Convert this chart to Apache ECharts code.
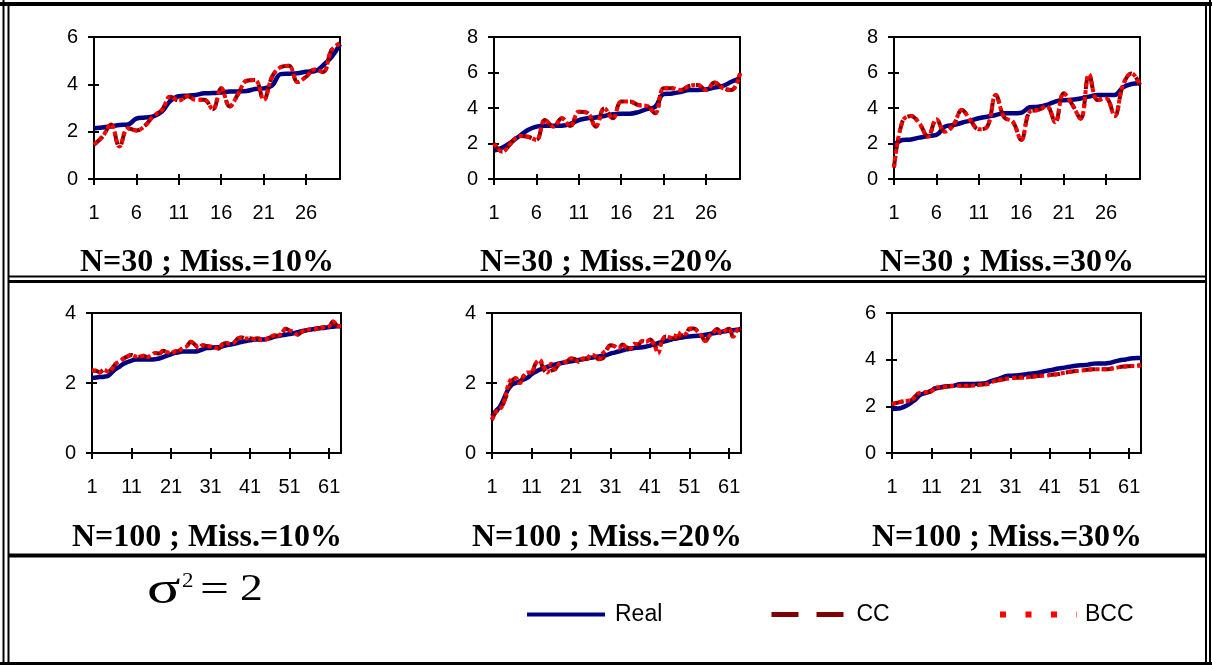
<!DOCTYPE html>
<html>
<head>
<meta charset="utf-8">
<script src="https://cdn.jsdelivr.net/npm/echarts@6/dist/echarts.min.js"></script>
<style>
html,body{margin:0;padding:0;background:#fff;}
#chart{width:1212px;height:665px;}
</style>
</head>
<body>
<div id="chart"></div>
<script>
// ---------- categories / tick labels ----------
const cats30 = ['1','2','3','4','5','6','7','8','9','10','11','12','13','14','15','16','17','18','19','20','21','22','23','24','25','26','27','28','29','30'];
const cats64 = ['1','2','3','4','5','6','7','8','9','10','11','12','13','14','15','16','17','18','19','20','21','22','23','24','25','26','27','28','29','30','31','32','33','34','35','36','37','38','39','40','41','42','43','44','45','46','47','48','49','50','51','52','53','54','55','56','57','58','59','60','61','62','63','64'];
const panelTitles = ['N=30 ; Miss.=10%','N=30 ; Miss.=20%','N=30 ; Miss.=30%','N=100 ; Miss.=10%','N=100 ; Miss.=20%','N=100 ; Miss.=30%'];
const yMaxes = [6, 8, 8, 4, 4, 6];
const seriesNames = ['Real','CC','BCC'];

// ---------- N=30, 10% ----------
const p1Real = [2.14,2.18,2.22,2.28,2.3,2.55,2.6,2.65,2.85,3.3,3.5,3.52,3.55,3.62,3.63,3.65,3.7,3.7,3.72,3.8,3.83,3.95,4.43,4.45,4.47,4.53,4.55,4.8,5.15,5.7];
const p1CC   = [1.45,1.79,2.3,1.37,2.14,2.05,2.25,2.66,2.91,3.48,3.31,3.5,3.35,3.35,2.95,3.83,3.06,3.6,4.15,4.18,3.34,4.32,4.72,4.78,4.1,4.32,4.63,4.52,5.45,5.73];
const p1BCC  = [1.45,1.79,2.3,1.37,2.14,2.05,2.25,2.66,2.91,3.48,3.31,3.5,3.35,3.35,2.95,3.83,3.06,3.6,4.15,4.18,3.34,4.32,4.72,4.78,4.1,4.32,4.63,4.52,5.45,5.73];
// ---------- N=30, 20% ----------
const p2Real = [1.6,1.78,2.07,2.42,2.76,2.95,3.0,3.0,3.0,3.1,3.32,3.42,3.47,3.55,3.65,3.68,3.68,3.77,3.94,4.07,4.79,4.82,4.9,5.01,5.01,5.05,5.15,5.24,5.48,5.67];
const p2CC   = [2.0,1.54,2.01,2.42,2.38,2.2,3.32,2.95,3.42,2.98,3.79,3.73,2.95,3.98,3.42,4.36,4.36,4.17,4.12,3.7,5.11,5.11,5.01,5.24,5.3,5.01,5.43,5.11,5.01,5.95];
const p2BCC  = [2.0,1.54,2.01,2.42,2.38,2.2,3.32,2.95,3.42,2.98,3.79,3.73,2.95,3.98,3.42,4.36,4.36,4.17,4.12,3.7,5.11,5.11,5.01,5.24,5.3,5.01,5.43,5.11,5.01,5.95];
// ---------- N=30, 30% ----------
const p3Real = [1.9,2.2,2.23,2.33,2.42,2.48,2.95,3.04,3.17,3.29,3.42,3.51,3.61,3.7,3.7,3.73,4.04,4.07,4.17,4.36,4.44,4.47,4.54,4.64,4.73,4.73,4.73,5.16,5.35,5.39];
const p3CC   = [0.65,3.25,3.55,3.13,2.38,3.36,2.66,3.04,3.89,3.32,2.8,2.95,4.73,3.47,3.23,2.2,3.79,3.89,4.1,3.2,4.83,4.2,3.4,5.9,4.45,4.54,3.55,5.3,5.95,5.3];
const p3BCC  = [0.65,3.25,3.55,3.13,2.38,3.36,2.66,3.04,3.89,3.32,2.8,2.95,4.73,3.47,3.23,2.2,3.79,3.89,4.1,3.2,4.83,4.2,3.4,5.9,4.45,4.54,3.55,5.3,5.95,5.3];
// ---------- N=100, 10% ----------
const p4Real = [2.14,2.16,2.17,2.18,2.2,2.3,2.4,2.47,2.55,2.6,2.64,2.67,2.67,2.67,2.67,2.67,2.68,2.7,2.74,2.78,2.82,2.86,2.88,2.9,2.9,2.9,2.9,2.92,2.96,3.0,3.0,3.02,3.02,3.05,3.08,3.1,3.12,3.15,3.18,3.2,3.22,3.24,3.24,3.24,3.25,3.28,3.32,3.34,3.36,3.38,3.4,3.42,3.45,3.48,3.5,3.52,3.54,3.56,3.57,3.58,3.6,3.61,3.62,3.62];
const p4CC   = [2.36,2.35,2.3,2.38,2.33,2.4,2.55,2.62,2.7,2.76,2.8,2.76,2.75,2.78,2.74,2.8,2.86,2.84,2.92,2.88,2.86,2.9,2.92,3.0,3.05,3.18,3.1,3.0,3.08,3.06,3.04,3.02,2.98,3.1,3.14,3.12,3.16,3.28,3.3,3.27,3.28,3.26,3.28,3.22,3.25,3.3,3.36,3.35,3.42,3.55,3.5,3.46,3.38,3.46,3.5,3.53,3.52,3.56,3.58,3.6,3.62,3.76,3.64,3.62];
const p4BCC  = [2.36,2.35,2.3,2.38,2.33,2.4,2.55,2.62,2.7,2.76,2.8,2.76,2.75,2.78,2.74,2.8,2.86,2.84,2.92,2.88,2.86,2.9,2.92,3.0,3.05,3.18,3.1,3.0,3.08,3.06,3.04,3.02,2.98,3.1,3.14,3.12,3.16,3.28,3.3,3.27,3.28,3.26,3.28,3.22,3.25,3.3,3.36,3.35,3.42,3.55,3.5,3.46,3.38,3.46,3.5,3.53,3.52,3.56,3.58,3.6,3.62,3.76,3.64,3.62];
// ---------- N=100, 20% ----------
const p5Real = [1.05,1.2,1.32,1.55,1.8,1.95,2.0,2.05,2.1,2.15,2.25,2.32,2.38,2.42,2.46,2.5,2.53,2.56,2.58,2.6,2.62,2.64,2.66,2.68,2.7,2.72,2.74,2.76,2.78,2.8,2.84,2.87,2.9,2.93,2.96,2.98,3.0,3.01,3.02,3.04,3.07,3.1,3.14,3.17,3.2,3.23,3.26,3.28,3.3,3.32,3.33,3.34,3.35,3.36,3.38,3.4,3.42,3.44,3.46,3.48,3.5,3.51,3.52,3.53];
const p5CC   = [0.95,1.18,1.25,1.45,1.75,2.05,2.14,2.0,2.2,2.3,2.3,2.55,2.66,2.4,2.3,2.35,2.4,2.55,2.6,2.62,2.7,2.68,2.6,2.7,2.68,2.8,2.78,2.68,2.7,2.95,3.08,3.05,2.98,3.1,3.02,2.98,3.12,3.1,3.2,3.18,3.24,3.1,2.95,3.2,3.33,3.3,3.28,3.3,3.35,3.4,3.55,3.56,3.48,3.35,3.2,3.35,3.45,3.54,3.42,3.5,3.55,3.32,3.5,3.56];
const p5BCC  = [0.95,1.18,1.25,1.45,1.9,2.12,2.14,2.0,2.2,2.3,2.3,2.55,2.66,2.5,2.3,2.55,2.4,2.55,2.6,2.62,2.7,2.68,2.6,2.7,2.68,2.8,2.78,2.68,2.85,2.95,3.08,3.05,2.98,3.1,3.02,2.98,3.12,3.1,3.2,3.18,3.24,3.1,2.85,3.2,3.33,3.3,3.28,3.45,3.36,3.4,3.55,3.56,3.48,3.35,3.2,3.35,3.45,3.54,3.42,3.5,3.55,3.32,3.5,3.56];
// ---------- N=100, 30% ----------
const p6Real = [1.88,1.9,1.92,1.98,2.06,2.18,2.3,2.48,2.55,2.6,2.68,2.77,2.8,2.84,2.86,2.87,2.9,2.95,2.96,2.96,2.96,2.96,2.97,2.98,3.0,3.08,3.13,3.18,3.24,3.3,3.31,3.32,3.33,3.35,3.38,3.4,3.42,3.44,3.48,3.52,3.55,3.58,3.62,3.64,3.67,3.7,3.73,3.75,3.76,3.77,3.8,3.83,3.84,3.84,3.84,3.86,3.9,3.95,3.99,4.0,4.04,4.06,4.07,4.07];
const p6CC   = [2.1,2.14,2.18,2.22,2.24,2.27,2.45,2.58,2.6,2.6,2.65,2.8,2.82,2.82,2.86,2.87,2.88,2.88,2.88,2.88,2.88,2.9,2.92,2.94,2.96,3.02,3.08,3.12,3.15,3.18,3.2,3.22,3.23,3.24,3.24,3.26,3.28,3.3,3.31,3.32,3.34,3.36,3.38,3.42,3.45,3.48,3.5,3.52,3.54,3.56,3.58,3.59,3.59,3.59,3.59,3.6,3.63,3.66,3.7,3.71,3.72,3.73,3.74,3.77];
const p6BCC  = [2.1,2.14,2.18,2.22,2.24,2.27,2.45,2.58,2.6,2.6,2.65,2.8,2.82,2.82,2.86,2.87,2.88,2.88,2.88,2.88,2.88,2.9,2.92,2.94,2.96,3.02,3.08,3.12,3.15,3.18,3.2,3.22,3.23,3.24,3.24,3.26,3.28,3.3,3.31,3.32,3.34,3.36,3.38,3.42,3.45,3.48,3.5,3.52,3.54,3.56,3.58,3.59,3.59,3.59,3.59,3.6,3.63,3.66,3.7,3.71,3.72,3.73,3.74,3.77];

const panelData = [
  [p1Real, p1CC, p1BCC], [p2Real, p2CC, p2BCC], [p3Real, p3CC, p3BCC],
  [p4Real, p4CC, p4BCC], [p5Real, p5CC, p5BCC], [p6Real, p6CC, p6BCC]
];
const panelCats = [cats30, cats30, cats30, cats64, cats64, cats64];

// ---------- layout (positions & styles) ----------
const layout = [
  {left:94,  top:37,  width:246, height:142, step:4, tx:207,  ty:247},
  {left:494, top:37,  width:246, height:142, step:4, tx:607,  ty:247},
  {left:894, top:37,  width:246, height:142, step:4, tx:1007, ty:247},
  {left:92,  top:313, width:249, height:140, step:9, tx:207,  ty:522},
  {left:492, top:313, width:249, height:140, step:9, tx:607,  ty:522},
  {left:892, top:313, width:249, height:140, step:9, tx:1007, ty:522}
];
const styles = [
  {color:'#000080', width:4.5, type:'solid'},
  {color:'#800000', width:4, type:[12,6]},
  {color:'#FF0000', width:4, type:[4,3]}
];
const AX = '#000';
const sans = 'Liberation Sans, Arial, sans-serif';
const serif = 'Liberation Serif, Times New Roman, serif';

const grid = [], xAxis = [], yAxis = [], title = [], series = [];
layout.forEach((L, k) => {
  grid.push({left:L.left, top:L.top, width:L.width, height:L.height, show:true,
    borderColor:AX, borderWidth:2, backgroundColor:'transparent', containLabel:false});
  const cats = panelCats[k];
  xAxis.push({type:'category', gridIndex:k, data:cats, boundaryGap:false,
    axisLine:{show:true, onZero:false, lineStyle:{color:AX, width:2}},
    axisTick:{show:true, interval:L.step, length:6, lineStyle:{color:AX, width:2}},
    axisLabel:{interval:L.step, color:'#000', fontFamily:sans, fontSize:20, margin:24},
    splitLine:{show:false}});
  xAxis.push({type:'category', gridIndex:k, data:cats, boundaryGap:false, position:'bottom',
    axisLine:{show:false},
    axisTick:{show:true, inside:true, interval:L.step, length:5, lineStyle:{color:AX, width:2}},
    axisLabel:{show:false}, splitLine:{show:false}});
  yAxis.push({type:'value', gridIndex:k, min:0, max:yMaxes[k], interval:2,
    axisLine:{show:true, lineStyle:{color:AX, width:2}},
    axisTick:{show:true, length:6, lineStyle:{color:AX, width:2}},
    axisLabel:{color:'#000', fontFamily:sans, fontSize:20, margin:16},
    splitLine:{show:false}});
  yAxis.push({type:'value', gridIndex:k, min:0, max:yMaxes[k], interval:2, position:'left',
    axisLine:{show:false},
    axisTick:{show:true, inside:true, length:5, lineStyle:{color:AX, width:2}},
    axisLabel:{show:false}, splitLine:{show:false}});
  title.push({text:panelTitles[k], left:L.tx, top:L.ty, textAlign:'center', padding:0,
    textStyle:{fontFamily:serif, fontWeight:'bold', fontSize:32, color:'#000'}});
  panelData[k].forEach((arr, s) => {
    series.push({type:'line', name:seriesNames[s], xAxisIndex:2*k, yAxisIndex:2*k,
      data:arr, symbol:'none', smooth:0.4, lineStyle:Object.assign({}, styles[s]),
      itemStyle:{color:styles[s].color}, z:2+s});
  });
});

const legendDefs = [
  {name:'Real', left:525, itemWidth:78, pad:5,  ls:{color:'#000080', width:4, type:'solid'}},
  {name:'CC',   left:769, itemWidth:72, pad:8,  ls:{color:'#800000', width:5, type:[27,18]}},
  {name:'BCC',  left:997, itemWidth:77, pad:3,  ls:{color:'#FF0000', width:6, type:[6,19.5]}}
];
const legend = legendDefs.map(d => ({
  left:d.left, top:603, padding:0, itemWidth:d.itemWidth, itemHeight:14, selectedMode:false,
  data:[{name:d.name, lineStyle:d.ls,
         itemStyle:{color:'rgba(0,0,0,0)', borderWidth:0, opacity:0}}],
  textStyle:{fontFamily:sans, fontSize:23, color:'#000', padding:[0,0,0,d.pad]}
}));

const L = (x1,y1,x2,y2,w) => ({type:'line', silent:true, shape:{x1,y1,x2,y2}, style:{stroke:'#000', lineWidth:w}});
const graphic = [
  L(0,4,1212,4,4),
  L(3.5,0,3.5,665,2), L(8.5,4,8.5,665,2),
  L(1206,4,1206,665,2), L(1210,0,1210,665,2),
  L(0,663.5,1212,663.5,3),
  L(8,276.5,1206,276.5,2), L(8,281.5,1206,281.5,3), L(8,555.5,1206,555.5,4),
  {type:'text', x:147, y:568, scaleX:1.35, style:{text:'σ', font:'46px ' + serif, fill:'#000'}},
  {type:'text', x:182, y:572, scaleX:1.15, style:{text:'2', font:'20px ' + serif, fill:'#000'}},
  {type:'text', x:200, y:572, scaleX:1.35, style:{text:'=', font:'38px ' + serif, fill:'#000'}},
  {type:'text', x:240, y:571, scaleX:1.2, style:{text:'2', font:'38px ' + serif, fill:'#000'}}
];

const chart = echarts.init(document.getElementById('chart'), null, {renderer:'canvas'});
chart.setOption({animation:false, backgroundColor:'#fff', grid, xAxis, yAxis, title, legend, graphic, series});
</script>
</body>
</html>
